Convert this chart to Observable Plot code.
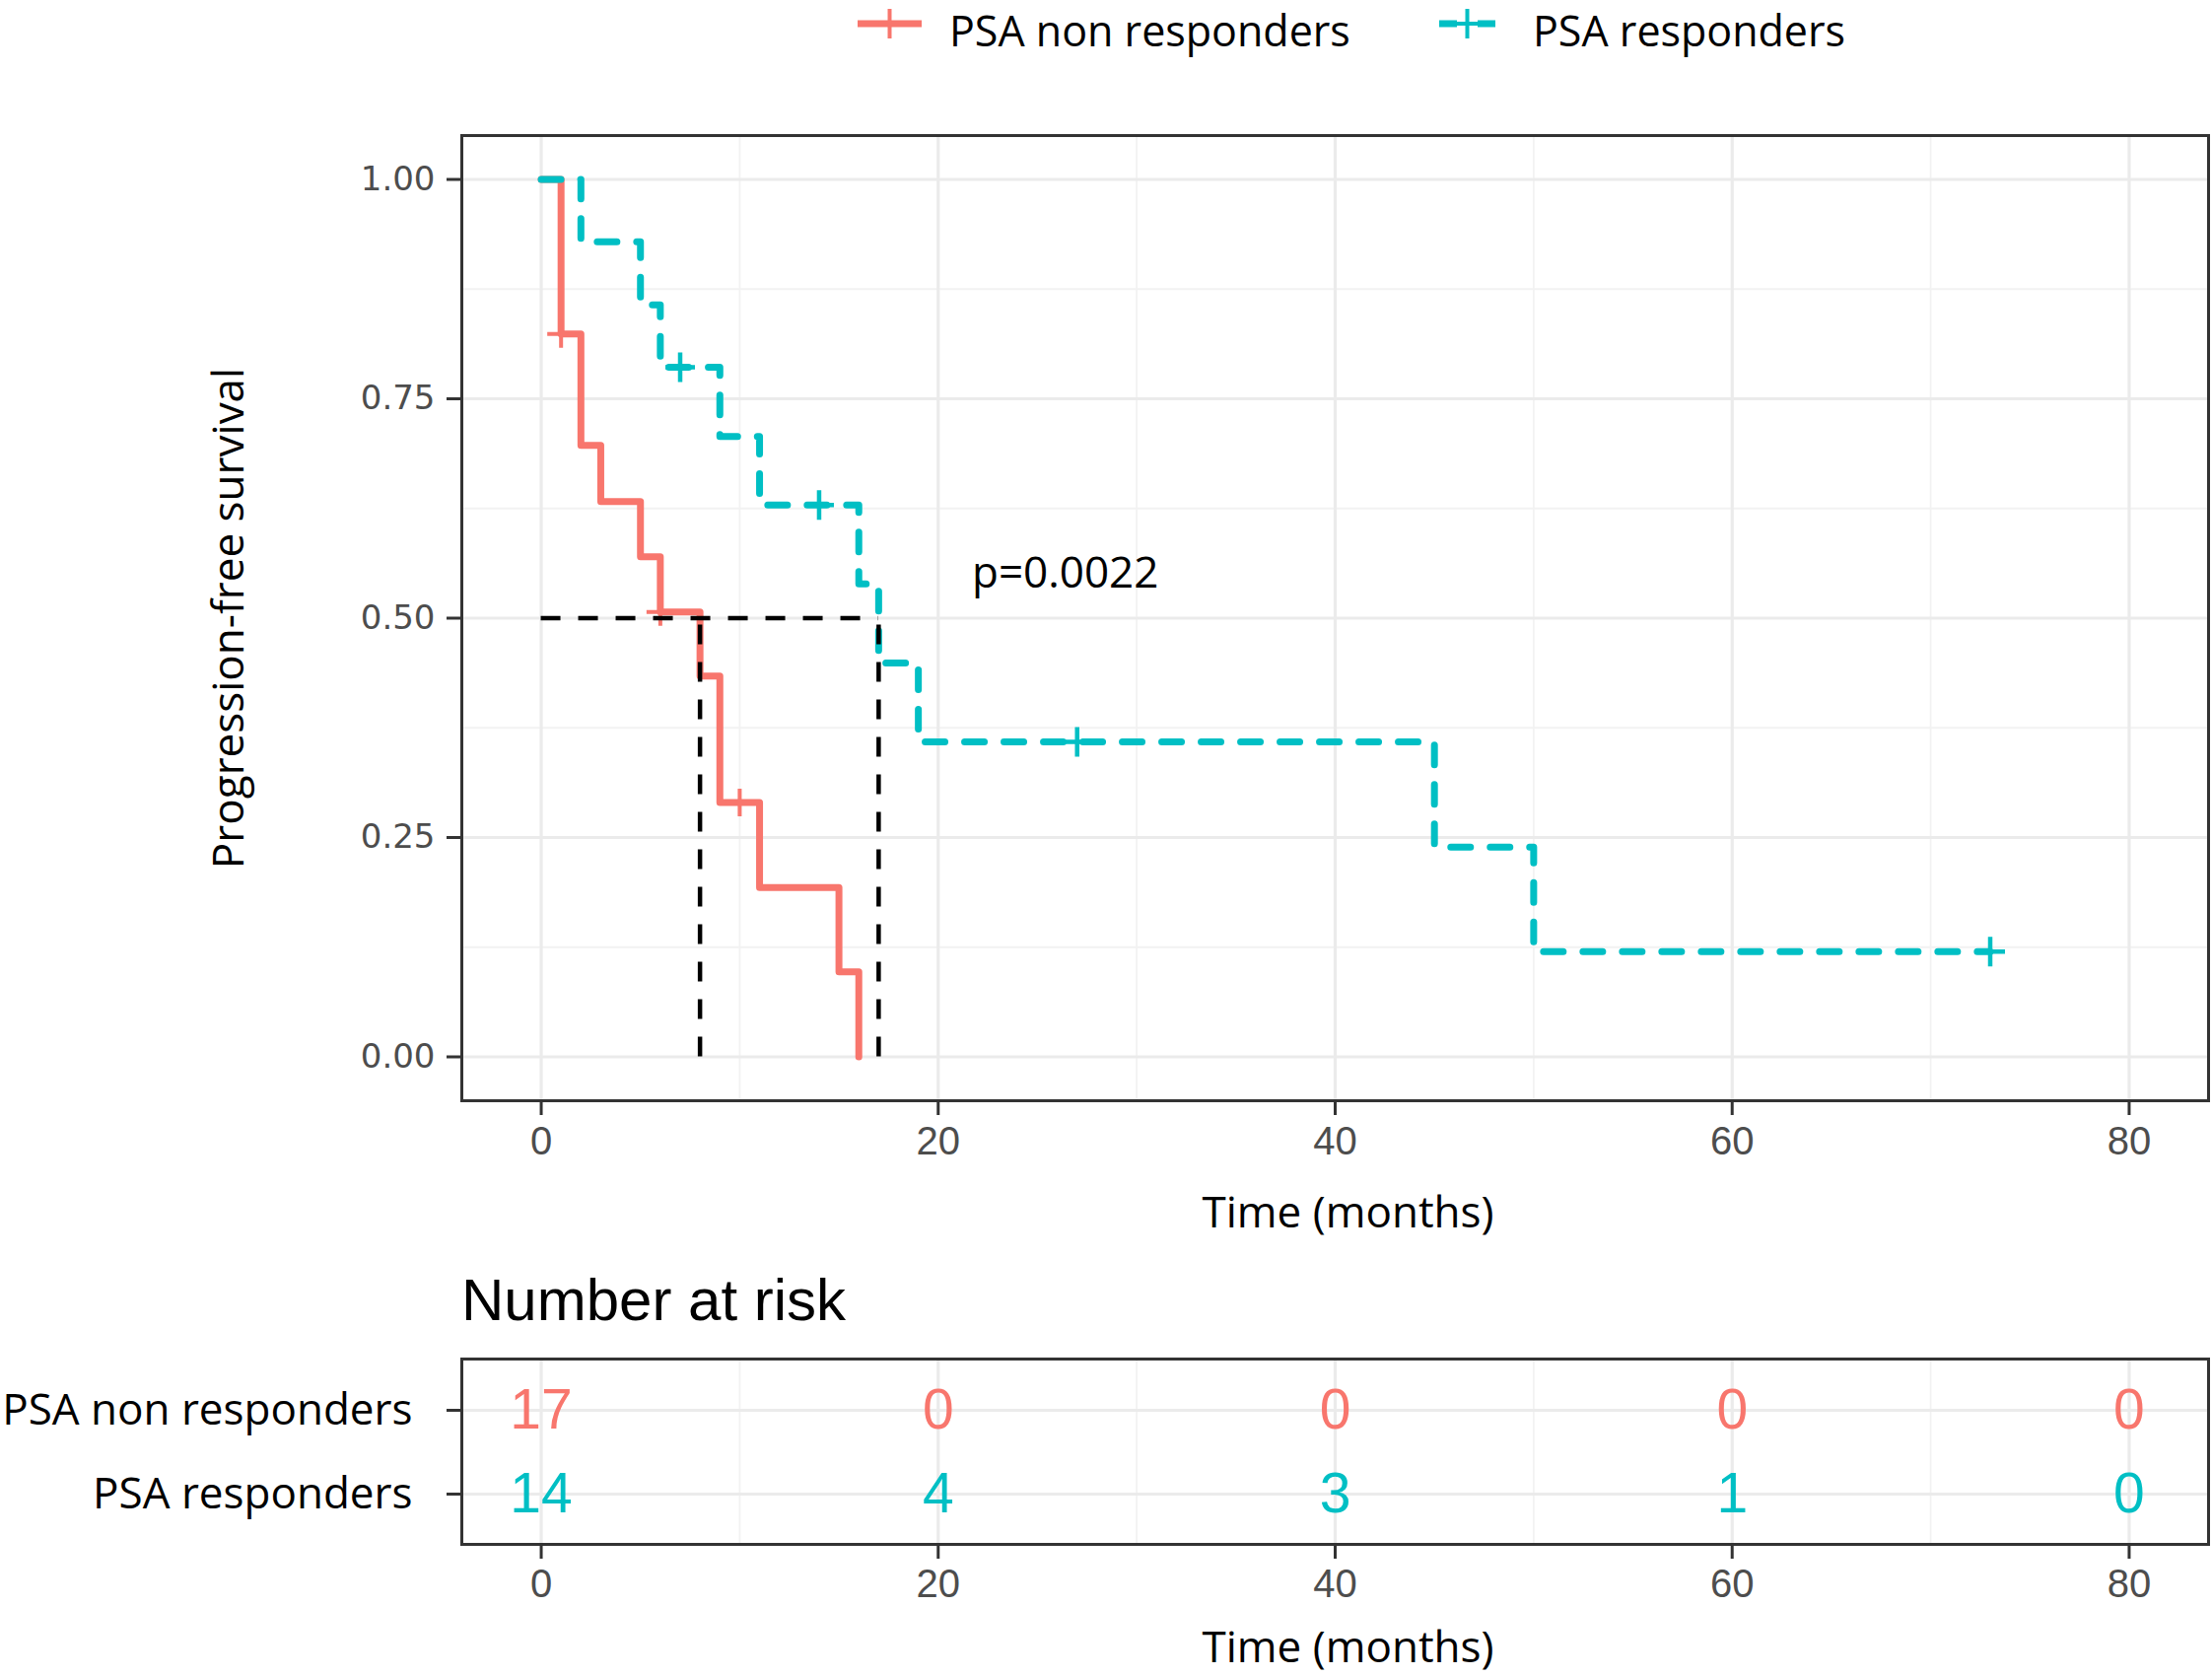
<!DOCTYPE html>
<html>
<head>
<meta charset="utf-8">
<script src="https://cdn.jsdelivr.net/npm/d3@7"></script>
<script src="https://cdn.jsdelivr.net/npm/@observablehq/plot@0.6"></script>
<style>
html, body { margin: 0; padding: 0; background: #ffffff; }
#root { position: relative; width: 2244px; height: 1700px; overflow: hidden; background: #ffffff; }
#root > svg { position: absolute; left: 0; }
</style>
</head>
<body>
<div id="root"></div>
<script>
// ---------- data ----------
const groups = ["PSA non responders", "PSA responders"];
const colors = ["#F8766D", "#00BFC4"];

const nonTime = [0, 1, 2, 3, 5, 6, 8, 9, 11, 15, 16];
const nonSurv = [1, 0.824, 0.697, 0.633, 0.570, 0.507, 0.434, 0.290, 0.193, 0.097, 0];
const nonCensorTime = [1, 6, 10];
const nonCensorSurv = [0.824, 0.507, 0.290];

const respTime = [0, 2, 5, 6, 9, 11, 16, 17, 19, 45, 50, 73];
const respSurv = [1, 0.929, 0.857, 0.786, 0.707, 0.629, 0.539, 0.449, 0.359, 0.239, 0.120, 0.120];
const respCensorTime = [7, 14, 27, 73];
const respCensorSurv = [0.786, 0.629, 0.359, 0.120];

const medianTime = [8, 17];
const medianSurv = 0.5;

const riskTimes = [0, 20, 40, 60, 80];
const riskNon = [17, 0, 0, 0, 0];
const riskResp = [14, 4, 3, 1, 0];

const xTicks = [0, 20, 40, 60, 80];
const xMinor = [10, 30, 50, 70];
const yTicks = [0, 0.25, 0.5, 0.75, 1];
const yMinor = [0.125, 0.375, 0.625, 0.875];

const pLabel = "p=0.0022";
const xTitle = "Time (months)";
const yTitle = "Progression-free survival";
const riskTitle = "Number at risk";

// ---------- tables ----------
const nonData = nonTime.map((t, i) => ({time: t, surv: nonSurv[i]}));
const respData = respTime.map((t, i) => ({time: t, surv: respSurv[i]}));
const nonCens = nonCensorTime.map((t, i) => ({time: t, surv: nonCensorSurv[i]}));
const respCens = respCensorTime.map((t, i) => ({time: t, surv: respCensorSurv[i]}));
const riskData = [
  ...riskTimes.map((t, i) => ({group: groups[0], time: t, n: riskNon[i]})),
  ...riskTimes.map((t, i) => ({group: groups[1], time: t, n: riskResp[i]}))
];

const cross = {
  draw(context, size) {
    const r = Math.sqrt(size / Math.PI);
    context.moveTo(-r, 0); context.lineTo(r, 0);
    context.moveTo(0, -r); context.lineTo(0, r);
  }
};

const titleFont = "'Open Sans', 'Noto Sans', sans-serif";
const numFont = "'Liberation Sans', Arial, sans-serif";
const majorGrid = {stroke: "#EBEBEB", strokeWidth: 3.2};
const minorGrid = {stroke: "#F2F2F2", strokeWidth: 1.8};

// ---------- main KM plot ----------
const mainH = 1290;
const main = Plot.plot({
  width: 2244,
  height: mainH,
  marginTop: 137,
  marginBottom: mainH - 1116,
  marginLeft: 468,
  marginRight: 4,
  x: {domain: [-4, 84]},
  y: {domain: [-0.05, 1.05]},
  style: {background: "transparent", color: "black", fontFamily: numFont, overflow: "visible"},
  marks: [
    Plot.ruleX(xMinor, minorGrid),
    Plot.ruleY(yMinor, minorGrid),
    Plot.ruleX(xTicks, majorGrid),
    Plot.ruleY(yTicks, majorGrid),
    Plot.line(nonData, {x: "time", y: "surv", curve: "step-after", stroke: colors[0], strokeWidth: 7}),
    Plot.line(respData, {x: "time", y: "surv", curve: "step-after", stroke: colors[1], strokeWidth: 7, strokeDasharray: "20,20"}),
    Plot.dot(nonCens, {x: "time", y: "surv", symbol: cross, r: 14, fill: "none", stroke: colors[0], strokeWidth: 4}),
    Plot.dot(respCens, {x: "time", y: "surv", symbol: cross, r: 15, fill: "none", stroke: colors[1], strokeWidth: 4.5}),
    Plot.ruleY([medianSurv], {x1: 0, x2: d3.max(medianTime), stroke: "black", strokeWidth: 4.5, strokeDasharray: "20,18"}),
    Plot.ruleX(medianTime, {y1: 0, y2: medianSurv, stroke: "black", strokeWidth: 4.5, strokeDasharray: "20,18"}),
    Plot.text([pLabel], {x: 21.7, y: 0.551, textAnchor: "start", fontSize: 44, fontFamily: titleFont, fill: "black"}),
    Plot.frame({stroke: "#333333", strokeWidth: 3}),
    Plot.axisX(xTicks, {tickSize: 15, tickPadding: 11, fontSize: 40, fontFamily: numFont, stroke: "#333333", fill: "#4D4D4D", strokeWidth: 3, label: null}),
    Plot.axisY(yTicks, {tickSize: 15, tickPadding: 12, tickFormat: d3.format(".2f"), fontSize: 34, fontFamily: "'DejaVu Sans', sans-serif", stroke: "#333333", fill: "#4D4D4D", strokeWidth: 3, label: null}),
    Plot.text([xTitle], {frameAnchor: "bottom", dx: 13, dy: 128, fontSize: 44, fontFamily: titleFont, fill: "black"}),
    Plot.text([yTitle], {frameAnchor: "left", textAnchor: "middle", dx: -236, rotate: -90, fontSize: 44, fontFamily: titleFont, fill: "black"})
  ]
});
main.style.top = "0px";

// ---------- risk table ----------
const riskTop = 1300;
const riskH = 400;
const risk = Plot.plot({
  width: 2244,
  height: riskH,
  marginTop: 1378 - riskTop,
  marginBottom: riskTop + riskH - 1566,
  marginLeft: 468,
  marginRight: 4,
  x: {domain: [-4, 84]},
  y: {type: "point", domain: groups, padding: 0.6},
  color: {domain: groups, range: colors},
  style: {background: "transparent", color: "black", fontFamily: numFont, overflow: "visible"},
  marks: [
    Plot.ruleX(xMinor, minorGrid),
    Plot.ruleX(xTicks, majorGrid),
    Plot.ruleY(groups, {y: d => d, ...majorGrid}),
    Plot.text(riskData, {x: "time", y: "group", text: "n", fill: "group", fontSize: 57, fontFamily: numFont}),
    Plot.frame({stroke: "#333333", strokeWidth: 3}),
    Plot.axisX(xTicks, {tickSize: 15, tickPadding: 10, fontSize: 40, fontFamily: numFont, stroke: "#333333", fill: "#4D4D4D", strokeWidth: 3, label: null}),
    Plot.axisY(groups, {tickSize: 15, tickPadding: 35, fontSize: 44, fontFamily: titleFont, stroke: "#333333", fill: "black", strokeWidth: 3, label: null}),
    Plot.text([xTitle], {frameAnchor: "bottom", dx: 13, dy: 119, fontSize: 44, fontFamily: titleFont, fill: "black"})
  ]
});
risk.style.top = riskTop + "px";

const root = document.getElementById("root");
root.appendChild(main);
root.appendChild(risk);

// ---------- legend and risk heading ----------
const over = d3.create("svg")
  .attr("width", 2244).attr("height", 1700)
  .style("top", "0px").style("pointer-events", "none");

const legY = 24;
const leg = over.append("g");
const legendItems = [
  {label: groups[0], color: colors[0], x0: 870, x1: 935, tx: 963, dash: null},
  {label: groups[1], color: colors[1], x0: 1460, x1: 1517, tx: 1555, dash: "18,21"}
];
legendItems.forEach(it => {
  const g = leg.append("g");
  g.append("line").attr("x1", it.x0).attr("x2", it.x1).attr("y1", legY).attr("y2", legY)
    .attr("stroke", it.color).attr("stroke-width", 7).attr("stroke-dasharray", it.dash);
  const cx = (it.x0 + it.x1) / 2;
  g.append("line").attr("x1", cx - 11).attr("x2", cx + 11).attr("y1", legY).attr("y2", legY)
    .attr("stroke", it.color).attr("stroke-width", 4);
  g.append("line").attr("x1", cx).attr("x2", cx).attr("y1", legY - 15).attr("y2", legY + 15)
    .attr("stroke", it.color).attr("stroke-width", 4);
  g.append("text").attr("x", it.tx).attr("y", 47).attr("font-family", titleFont)
    .attr("font-size", 43).attr("fill", "black").text(it.label);
});

over.append("text").attr("x", 468).attr("y", 1339).attr("font-family", numFont)
  .attr("font-size", 60).attr("fill", "black").text(riskTitle);

root.appendChild(over.node());
</script>
</body>
</html>
